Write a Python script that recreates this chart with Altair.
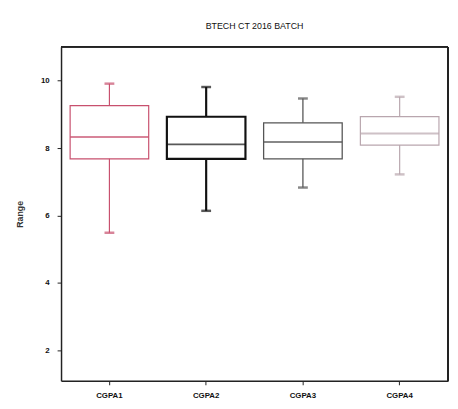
import altair as alt
import pandas as pd

categories = ["CGPA1", "CGPA2", "CGPA3", "CGPA4"]
whisker_low = [5.49, 6.14, 6.83, 7.22]
q1 = [7.68, 7.68, 7.68, 8.09]
median = [8.33, 8.11, 8.18, 8.43]
q3 = [9.26, 8.93, 8.75, 8.93]
whisker_high = [9.91, 9.81, 9.47, 9.52]
colors = ["#c8506e", "#111111", "#555555", "#b9a6ae"]
widths = [1.2, 2.2, 1.3, 1.2]
y_ticks = [2, 4, 6, 8, 10]

df = pd.DataFrame({
    "cat": categories, "lo": whisker_low, "q1": q1, "med": median,
    "q3": q3, "hi": whisker_high, "sw": widths,
})

x = alt.X("cat:N", sort=categories, title=None,
          scale=alt.Scale(paddingInner=0.2, paddingOuter=0.1),
          axis=alt.Axis(labelAngle=0, labelFontSize=8, labelFontWeight="bold",
                        labelColor="#111", domainColor="#222", domainWidth=1.5,
                        tickColor="#222", tickSize=4, labelPadding=7))
yscale = alt.Scale(domain=[1.1, 11], nice=False, zero=False)
color = alt.Color("cat:N", scale=alt.Scale(domain=categories, range=colors), legend=None)
sw = alt.StrokeWidth("sw:Q", scale=None)

base = alt.Chart(df)

whisk = base.mark_rule().encode(
    x=x,
    y=alt.Y("lo:Q", scale=yscale, title="Range",
            axis=alt.Axis(values=y_ticks, labelFontSize=8, labelFontWeight="bold",
                          labelColor="#111", grid=False, domainColor="#222",
                          domainWidth=1.5, tickColor="#222", tickSize=4,
                          labelPadding=8,
                          titleFontSize=9, titleFontWeight="bold", titleColor="#333",
                          titlePadding=16)),
    y2="hi:Q", color=color, strokeWidth=sw)

box = base.mark_bar(fill="white", size=80).encode(
    x=x, y=alt.Y("q1:Q", scale=yscale), y2="q3:Q", stroke=color, strokeWidth=sw)

med = base.mark_tick(size=80, thickness=2).encode(
    x=x, y=alt.Y("med:Q", scale=yscale), color=color)

cap_hi = base.mark_tick(size=10, thickness=2.5).encode(
    x=x, y=alt.Y("hi:Q", scale=yscale), color=color)
cap_lo = base.mark_tick(size=10, thickness=2.5).encode(
    x=x, y=alt.Y("lo:Q", scale=yscale), color=color)

top_frame = alt.Chart(df).mark_rule(color="#222", strokeWidth=1.5).encode(
    x=alt.value(0), x2=alt.value(394), y=alt.value(0))
right_frame = alt.Chart(df).mark_rule(color="#222", strokeWidth=1.5).encode(
    x=alt.value(394), y=alt.value(0), y2=alt.value(340))

chart = alt.layer(whisk, box, med, cap_hi, cap_lo, top_frame, right_frame).properties(
    width=394, height=340,
    autosize=alt.AutoSizeParams(type="none"),
    padding={"left": 54, "top": 36, "right": 2, "bottom": 20},
    title=alt.TitleParams("BTECH CT 2016 BATCH", fontSize=9, fontWeight="normal",
                          color="#111", offset=15),
).configure_view(stroke=None).configure(font="Liberation Sans")

chart.save("out.html", embed_options={"renderer": "svg", "actions": False})
